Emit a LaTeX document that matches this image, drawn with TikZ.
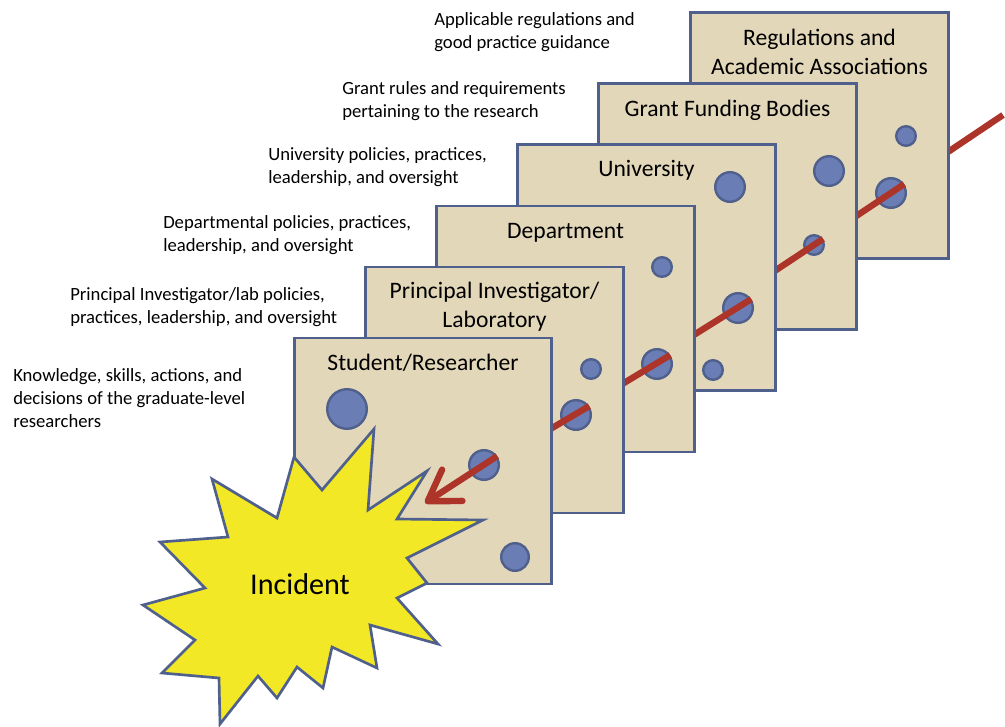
\documentclass[tikz,border=0pt]{standalone}
\usepackage{fontspec}
\setmainfont{Carlito}
\usetikzlibrary{arrows.meta}
\definecolor{panelfill}{HTML}{E3D7BA}
\definecolor{edgeblue}{HTML}{50608C}
\definecolor{dotblue}{HTML}{6B7DB5}
\definecolor{rayred}{HTML}{AD3428}
\definecolor{burst}{HTML}{F2E826}
\begin{document}
\begin{tikzpicture}[x=0.75pt, y=-0.75pt,
  panel/.style={draw=edgeblue, fill=panelfill, line width=2.2pt, minimum width=193pt, minimum height=184.5pt, inner sep=0pt},
  dot/.style={circle, draw=edgeblue, fill=dotblue, line width=1.8pt, inner sep=0pt, minimum size=#1},
  ptitle/.style={font=\fontsize{17.7}{21.75}\selectfont, align=center, inner sep=0pt},
  note/.style={font=\fontsize{14}{17.25}\selectfont, align=left, anchor=west, inner sep=0pt},
  ray/.style={draw=rayred, line width=4.8pt}]
  \useasboundingbox (0,0) rectangle (1005,727);
  \coordinate (far) at (1003,115);
  \coordinate (tip) at (425,503);
  \draw[ray] (far) -- (tip);

  \node[panel] (reg) at (819.5,135.5) {};
  \node[ptitle] (reg-t) at ([yshift=-30.5pt]reg.north) {Regulations and\\Academic Associations};
  \node[dot=14.7pt] (reg-a) at (906,136) {};
  \node[dot=22.2pt] (reg-hole) at (891,193) {};
  \draw[ray] (reg-hole.34) -- (tip);

  \node[panel] (grant) at (727.5,206.5) {};
  \node[ptitle] (grant-t) at ([yshift=-21pt]grant.north) {Grant Funding Bodies};
  \node[dot=22.2pt] (grant-a) at (829,171) {};
  \node[dot=14.7pt] (grant-hole) at (814,245) {};
  \draw[ray] (grant-hole.34) -- (tip);

  \node[panel] (univ) at (646.5,267.5) {};
  \node[ptitle] (univ-t) at ([yshift=-20.5pt]univ.north) {University};
  \node[dot=22.2pt] (univ-a) at (730,187) {};
  \node[dot=22.2pt] (univ-hole) at (738,308) {};
  \draw[ray] (univ-hole.34) -- (tip);

  \node[panel] (dept) at (565.5,329) {};
  \node[ptitle] (dept-t) at ([yshift=-21pt]dept.north) {Department};
  \node[dot=14.7pt] (dept-a) at (662,267) {};
  \node[dot=14.7pt] (dept-b) at (713,370) {};
  \node[dot=22.2pt] (dept-hole) at (657,364) {};
  \draw[ray] (dept-hole.34) -- (tip);

  \node[panel] (pi) at (494.5,390) {};
  \node[ptitle] (pi-t) at ([yshift=-31pt]pi.north) {Principal Investigator/\\Laboratory};
  \node[dot=14.7pt] (pi-a) at (591,369) {};
  \node[dot=22.2pt] (pi-hole) at (576,415) {};
  \draw[ray] (pi-hole.34) -- (tip);

  \node[panel] (student) at (423,461) {};
  \node[ptitle] (student-t) at ([yshift=-19.5pt]student.north) {Student/Researcher};
  \node[dot=29.7pt] (student-a) at (347,409) {};
  \node[dot=20.7pt] (student-b) at (515,557) {};
  \node[dot=22.2pt] (student-hole) at (484,465) {};
  \draw[ray, -{Straight Barb[length=22pt, width=28pt, line cap=round, line join=round]}] (student-hole.34) -- (tip);

  \filldraw[draw=edgeblue, fill=burst, line width=2pt] (374,429) -- (368,510) -- (427,471) -- (397,519)
    -- (483,520) -- (407,558) -- (427,583) -- (397,598) -- (438,644) -- (370,625) -- (377,668)
    -- (332,647) -- (323,688) -- (297,667) -- (277,698) -- (258,676) -- (220,724) -- (219,678)
    -- (162,673) -- (195,640) -- (143,605) -- (205,588) -- (160,542) -- (228,537) -- (212,479)
    -- (277,518) -- (294,457) -- (322,490) -- cycle;
  \node[font=\fontsize{22.6}{27}\selectfont] (incident) at (300,584) {Incident};

  \node[note] (reg-n) at (434,32.5) {Applicable regulations and\\good practice guidance};
  \node[note] (grant-n) at (342,101) {Grant rules and requirements\\pertaining to the research};
  \node[note] (univ-n) at (268,167.5) {University policies, practices,\\leadership, and oversight};
  \node[note] (dept-n) at (163,235.5) {Departmental policies, practices,\\leadership, and oversight};
  \node[note] (pi-n) at (70,307.5) {Principal Investigator/lab policies,\\practices, leadership, and oversight};
  \node[note] (student-n) at (13,398) {Knowledge, skills, actions, and\\decisions of the graduate-level\\researchers};
\end{tikzpicture}
\end{document}
